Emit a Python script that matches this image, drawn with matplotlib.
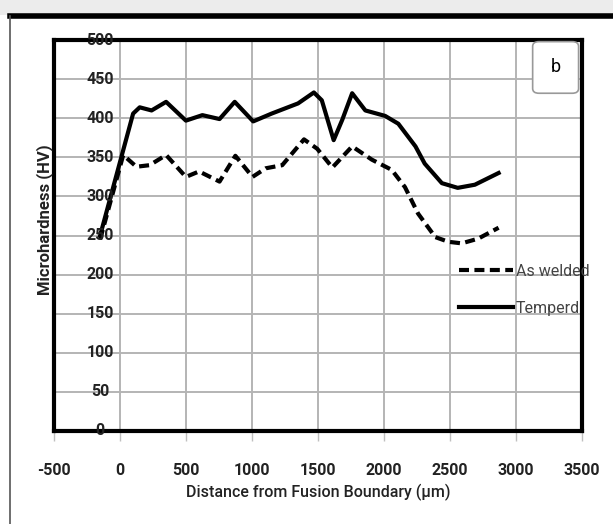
import matplotlib.pyplot as plt
from matplotlib.patches import FancyBboxPatch
from matplotlib.lines import Line2D

plt.rcParams['font.family'] = ['Roboto', 'DejaVu Sans']
plt.rcParams['axes.unicode_minus'] = False

# 데이터
tempered_x = [-150, 100, 150, 240, 350, 500, 625, 755, 870, 1010, 1150, 1350, 1470, 1530,
              1620, 1685, 1760, 1860, 2010, 2110, 2240, 2310, 2440, 2560, 2690, 2870]
tempered_y = [250, 406, 414, 410, 421, 397, 404, 399, 421, 396, 406, 419, 433, 423,
              372, 398, 432, 410, 403, 393, 364, 342, 317, 311, 315, 330]

welded_x = [-150, 25, 125, 225, 350, 500, 600, 755, 875, 1005, 1105, 1230, 1395, 1495,
            1610, 1760, 1910, 2060, 2160, 2260, 2390, 2490, 2590, 2715, 2870]
welded_y = [245, 353, 338, 340, 353, 325, 332, 319, 352, 325, 336, 340, 373, 361,
            337, 364, 347, 334, 312, 278, 248, 242, 240, 246, 260]

x_ticks = [-500, 0, 500, 1000, 1500, 2000, 2500, 3000, 3500]
y_ticks = [0, 50, 100, 150, 200, 250, 300, 350, 400, 450, 500]
y_axis_at = -150

fig = plt.figure(figsize=(6.13, 5.24), dpi=100)
ax = fig.add_axes([0.088, 0.1775, 0.861, 0.746])

# 그리드
ax.set_xticks(x_ticks)
ax.set_yticks(y_ticks)
ax.grid(True, color='#b4b4b4', linewidth=1.4)
ax.set_axisbelow(True)

ax.plot(welded_x, welded_y, color='black', linewidth=3, linestyle=(0, (2.4, 1.3)),
        solid_joinstyle='round', dash_joinstyle='round', label='As welded')
ax.plot(tempered_x, tempered_y, color='black', linewidth=3, solid_joinstyle='round',
        label='Temperd')

ax.set_xlim(-500, 3500)
ax.set_ylim(0, 500)

for s in ax.spines.values():
    s.set_linewidth(3)
    s.set_color('black')

# x축 눈금
ax.tick_params(axis='x', length=7, width=1, color='#c0c0c0', pad=16,
               labelsize=11.5, labelcolor='#222222')
for lab in ax.get_xticklabels():
    lab.set_fontweight('bold')

# y축 눈금 라벨은 x=-150 위치에
ax.tick_params(axis='y', length=0, labelleft=False)
for v in y_ticks:
    ax.text(y_axis_at, v, str(v), ha='center', va='center', fontsize=11.5,
            fontweight='bold', color='#222222')

ax.set_xlabel('Distance from Fusion Boundary (\u03bcm)', fontsize=11.5, color='#222222',
              fontweight='medium', labelpad=4)
fig.text(0.073, 0.58, 'Microhardness (HV)', rotation=90, ha='center', va='center',
         fontsize=12, fontweight='bold', color='#222222')

# 범례
leg = ax.legend(loc='upper left', bbox_to_anchor=(0.74, 0.465), frameon=False,
                handlelength=3.4, handletextpad=0.15, labelspacing=1.4,
                fontsize=11.5)
for t in leg.get_texts():
    t.set_color('#444444')

# 'b' 상자
box = FancyBboxPatch((0.907, 0.864), 0.087, 0.132, transform=ax.transAxes,
                     boxstyle='round,pad=0,rounding_size=0.012',
                     facecolor='white', edgecolor='#999999', linewidth=1.2, zorder=5)
ax.add_patch(box)
ax.text(0.9505, 0.93, 'b', transform=ax.transAxes, ha='center', va='center',
        fontsize=13, zorder=6)

# 바깥 테두리
fig.patches.append(plt.Rectangle((0, 0.972), 1, 0.028, transform=fig.transFigure,
                                 facecolor='#ececec', edgecolor='none'))
fig.lines.append(Line2D([0.016, 1], [0.969, 0.969], transform=fig.transFigure,
                        color='black', linewidth=4))
fig.lines.append(Line2D([0.016, 0.016], [0.0, 0.969], transform=fig.transFigure,
                        color='#555555', linewidth=1.2))

fig.savefig('out.png', dpi=100)
